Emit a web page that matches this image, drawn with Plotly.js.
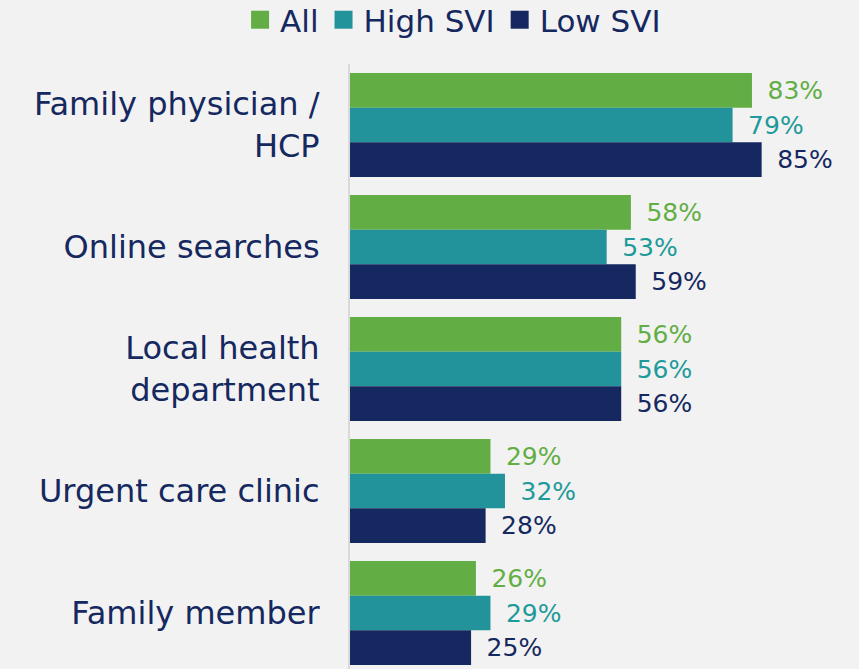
<!DOCTYPE html>
<html>
<head>
<meta charset="utf-8">
<script src="https://cdn.plot.ly/plotly-3.0.1.min.js"></script>
<style>html,body{margin:0;padding:0;background:#f2f2f2;}#chart{width:859px;height:669px;}</style>
</head>
<body>
<div id="chart"></div>
<script>
const categories = ["Family physician /<br>HCP", "Online searches", "Local health<br>department", "Urgent care clinic", "Family member"];
const allValues = [83, 58, 56, 29, 26];
const highSviValues = [79, 53, 56, 32, 29];
const lowSviValues = [85, 59, 56, 28, 25];
const seriesNames = ["All", "High SVI", "Low SVI"];

const colors = ["#62ae44", "#22939a", "#15285f"];
const labelColors = ["#62ae44", "#1f9a9a", "#15285f"];
const FONT = "DejaVu Sans, sans-serif";

const seriesValues = [allValues, highSviValues, lowSviValues];
const traces = seriesValues.map((vals, i) => ({
  type: "bar",
  orientation: "h",
  name: seriesNames[i],
  y: categories,
  x: vals,
  marker: {color: colors[i], line: {width: 0}},
  text: vals.map(v => v + "%"),
  texttemplate: "\u2002%{text}",
  textposition: "outside",
  textfont: {family: FONT, size: 25, color: labelColors[i]},
  constraintext: "none",
  cliponaxis: false,
  hoverinfo: "skip"
}));

const layout = {
  width: 859, height: 669,
  paper_bgcolor: "#f2f2f2", plot_bgcolor: "#f2f2f2",
  margin: {l: 350, r: 0, t: 64, b: 0, pad: 0},
  barmode: "group",
  bargap: 0.1475,
  bargroupgap: 0,
  font: {family: FONT, color: "#15285f"},
  xaxis: {range: [0, 105.1], showgrid: false, zeroline: false, showticklabels: false, showline: false, fixedrange: true},
  yaxis: {
    range: [4.459, -0.5], showgrid: false, zeroline: false,
    showline: true, linecolor: "#d9d9d9", linewidth: 2,
    ticks: "", ticklabelstandoff: 22,
    tickfont: {family: FONT, size: 32, color: "#15285f"}
  },
  showlegend: true,
  legend: {
    orientation: "h", xref: "container", yref: "container",
    x: 0.2795, xanchor: "left", y: 0.970, yanchor: "middle",
    font: {family: FONT, size: 31, color: "#15285f"},
    bgcolor: "rgba(0,0,0,0)", traceorder: "normal"
  }
};

Plotly.newPlot("chart", traces, layout, {displayModeBar: false, staticPlot: true}).then(() => {
  document.querySelectorAll("#chart .legendpoints path").forEach(p => {
    const t = p.getAttribute("transform") || "";
    p.setAttribute("transform", (t + " scale(1.5)").trim());
  });
});
</script>
</body>
</html>
